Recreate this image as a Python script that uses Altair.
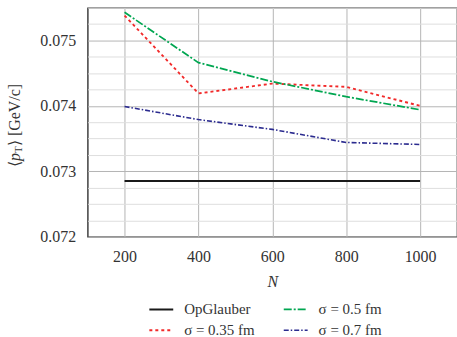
import altair as alt
import pandas as pd

# ---- data ----
N = [200, 400, 600, 800, 1000]
op_glauber = [0.07285, 0.07285, 0.07285, 0.07285, 0.07285]
sigma_035 = [0.07538, 0.07419, 0.07434, 0.07429, 0.07400]
sigma_05 = [0.07543, 0.07466, 0.07437, 0.07414, 0.07394]
sigma_07 = [0.07399, 0.07379, 0.07364, 0.07344, 0.07341]

series_names = ["OpGlauber", "σ = 0.35 fm", "σ = 0.5 fm", "σ = 0.7 fm"]
series_values = [op_glauber, sigma_035, sigma_05, sigma_07]
series_colors = ["#1a1a1a", "#f22a2a", "#00a651", "#2b2b8f"]
series_dash = [[1, 0], [3, 3], [8, 2, 2, 2], [5, 2, 1.5, 2]]
series_width = [2.0, 1.6, 1.6, 1.6]

x_ticks = [200, 400, 600, 800, 1000]
y_grid = [round(0.072 + 0.00025 * i, 5) for i in range(15)]

rows = []
for name, vals in zip(series_names, series_values):
    for n, v in zip(N, vals):
        rows.append({"N": n, "pt": v, "series": name})
df = pd.DataFrame(rows)

FONT = "'Liberation Serif', 'Times New Roman', serif"
major = "abs(round(datum.value*1000) - datum.value*1000) < 1e-6"

lines = alt.Chart(df).mark_line(clip=True).encode(
    x=alt.X("N:Q", scale=alt.Scale(domain=[100, 1100], nice=False, zero=False),
            axis=alt.Axis(values=x_ticks, title="N", titleFontStyle="italic", format="d",
                          grid=True, gridColor="#b4b4b4", gridWidth=1,
                          ticks=False, labelPadding=12, titlePadding=9,
                          domain=False, labelFlush=False)),
    y=alt.Y("pt:Q", scale=alt.Scale(domain=[0.072, 0.0755], nice=False, zero=False),
            axis=alt.Axis(values=y_grid, title=None, grid=True,
                          gridColor={"condition": {"test": major, "value": "#b4b4b4"}, "value": "#dedede"},
                          labelExpr=f"{major} ? format(datum.value, '.3f') : ''",
                          ticks=False, labelPadding=12, domain=False)),
    color=alt.Color("series:N", scale=alt.Scale(domain=series_names, range=series_colors),
                    legend=alt.Legend(title=None, orient="none", legendX=61, legendY=290,
                                      values=series_names,
                                      columns=2, symbolType="stroke", symbolSize=576,
                                      columnPadding=25, rowPadding=-2, labelOffset=10,
                                      labelFontSize=15)),
    strokeDash=alt.StrokeDash("series:N", scale=alt.Scale(domain=series_names, range=series_dash)),
    strokeWidth=alt.StrokeWidth("series:N", scale=alt.Scale(domain=series_names, range=series_width)),
)

title_pieces = [
    ("⟨", 0, 0, 16, "normal"),
    ("p", 6, 0, 16, "italic"),
    ("T", 14, 4, 11, "normal"),
    ("⟩ [GeV/c]", 21, 0, 16, "normal"),
]
title_layers = []
for txt, dx, dy, fs, style in title_pieces:
    title_layers.append(
        alt.Chart(pd.DataFrame({"t": [txt]})).mark_text(
            text=txt, angle=270, align="left", baseline="middle", dx=dx, dy=dy,
            fontSize=fs, font=FONT, fontStyle=style, color="#333333"
        ).encode(x=alt.value(-73), y=alt.value(160))
    )

chart = alt.layer(lines, *title_layers).properties(
    width=371, height=230,
    autosize=alt.AutoSizeParams(type="none"),
    padding={"left": 88, "top": 7, "right": 0, "bottom": 100},
).configure_view(stroke="#111111", strokeWidth=1.2).configure_axis(
    labelFont=FONT, titleFont=FONT, labelFontSize=16, titleFontSize=16,
    labelColor="#333333", titleColor="#333333", titleFontWeight="normal"
).configure_legend(labelFont=FONT, labelFontSize=16, labelColor="#333333")

chart.save("out.html", embed_options={"renderer": "svg", "actions": False})
